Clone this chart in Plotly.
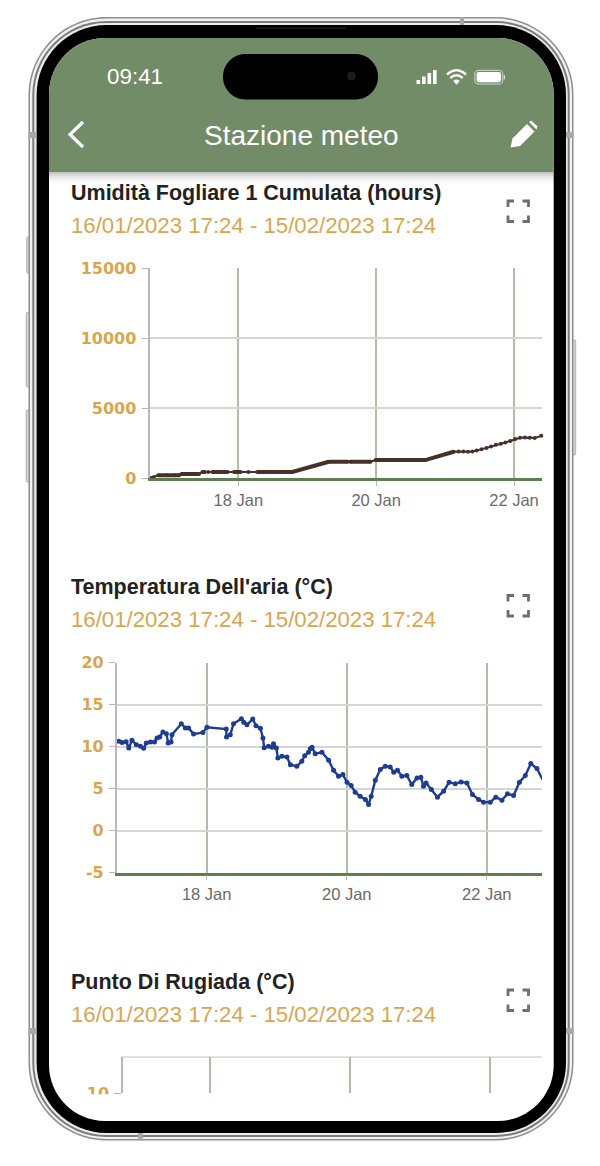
import pandas as pd
import plotly.graph_objects as go

W = 600
H = 1166

GREEN = '#738c68'
GOLD = '#d9a650'
AXIS_GREEN = '#5f7f50'
VGRID = '#adc0a5'
HGRID = '#d6d6d6'
BROWN = '#46302a'
BLUE = '#1f3d8f'

TITLES = ['Umidità Fogliare 1 Cumulata (hours)', "Temperatura Dell'aria (°C)", 'Punto Di Rugiada (°C)']
PERIOD = '16/01/2023 17:24 - 15/02/2023 17:24'

tick_days = ['2023-01-18', '2023-01-20', '2023-01-22']
tick_names = ['18 Jan', '20 Jan', '22 Jan']

leaf_ticks = [0, 5000, 10000, 15000]
leaf_labels = ['0', '5000', '10000', '15000']
temp_ticks = [-5, 0, 5, 10, 15, 20]
temp_labels = ['-5', '0', '5', '10', '15', '20']

# ore dal 18 gennaio 00:00
leaf_hours = [-30.7, -29.5, -27.9, -25, -22, -20.6, -19.8, -17, -13.7, -12.5, -11.9, -10.5,
              -9, -6, -3.8, -1.5, 0.8, 3.5, 6.6, 11.2, 11.8, 14.1, 14.7, 18.8, 31.5, 32.1, 38, 39, 46, 47.8,
              65.1, 75, 76.7, 78.4, 80, 81.5,
              83, 84.7, 86.4, 88, 89.7, 91.4, 93, 94.7, 96.4, 98.1, 99.8, 101.5, 103.2, 105.5]
leaf_values = [0, 60, 190, 190, 190, 190, 285, 285, 285, 430, 430, 430,
               430, 430, 430, 430, 430, 430, 430, 430, 430, 430, 430, 430, 1165, 1165, 1165, 1165, 1165, 1280,
               1280, 1875, 1900, 1890, 1885, 1890,
               1960, 2050, 2150, 2260, 2370, 2450, 2540, 2650, 2790, 2880, 2890, 2880, 2860, 3015]

# tratti dove i punti sono cosi fitti da sembrare una riga spessa
dense_hours = [-27.9, -20.6, None, -19.8, -13.7, None, -12.5, -11.4, None, -9, -3.8, None, -1.5, 0.8, None,
               6.6, 11.2, None, 11.8, 14.1, None, 14.7, 18.8, 31.5, None, 32.1, 38, None, 39, 46, None, 47.8, 65.1, 75]
dense_values = [190, 190, None, 285, 285, None, 430, 430, None, 430, 430, None, 430, 430, None,
                430, 430, None, 430, 430, None, 430, 430, 1165, None, 1165, 1165, None, 1165, 1165, None, 1280, 1280, 1875]

temp_hours = [-30.7, -30.1, -29.0, -27.6, -26.7, -25.6, -24.1, -22.7, -21.6, -20.7, -19.3, -17.9, -17.0, -16.1,
              -15.0, -13.8, -13.2, -12.2, -11.9, -8.7, -7.3, -6.2, -4.5, -1.3, 0.1, 6.7, 6.8, 8.1, 9.2, 11.9,
              12.7, 13.8, 15.8, 16.9, 18.4, 19.3, 19.7, 21.2, 22.4, 22.9, 23.9, 24.4, 25.8, 27.5, 28.7, 30.9,
              32.6, 33.6, 34.9, 35.5, 36.1, 37.2, 39.5, 41.8, 43.5, 45.2, 46.7, 48.1, 49.5, 50.9, 52.6, 54.4,
              55.5, 56.4, 57.8, 59.5, 61.2, 62.9, 64.1, 65.4, 66.9, 68.6, 70.3, 72.1, 73.4, 74.3, 75.2, 77.0,
              79.1, 81.2, 83.1, 85.2, 87.2, 89.2, 91.1, 93.2, 94.9, 97.2, 99.1, 101.2, 103.1, 105.2, 107.2,
              109.2, 111.1, 113.2, 115.1]
temp_values = [10.75, 10.63, 10.51, 10.59, 9.84, 10.75, 10.24, 10.04, 9.8, 10.44, 10.55, 10.55, 11.03, 11.15,
               11.74, 11.54, 10.44, 10.55, 11.43, 12.73, 12.22, 12.22, 11.5, 11.7, 12.3, 12.1, 11.15, 11.43, 12.73, 13.33,
               12.9, 12.6, 13.29, 12.5, 12.2, 11.03, 9.88, 10.04, 9.92, 10.36, 9.84, 8.65, 8.85, 8.77, 7.86, 7.66,
               8.26, 8.93, 9.33, 9.76, 9.92, 9.17, 9.33, 8.38, 7.19, 6.48, 6.67, 5.76, 5.37, 4.58, 4.1, 3.71,
               3.11, 4.1, 6.0, 7.27, 7.66, 7.59, 6.95, 7.19, 6.48, 6.56, 5.49, 6.28, 6.36, 5.29, 5.68, 4.89,
               3.98, 4.7, 5.76, 5.57, 5.8, 5.68, 4.3, 3.71, 3.39, 3.39, 3.98, 3.63, 4.38, 4.18, 5.76,
               6.56, 7.98, 7.39, 6.08]

base = pd.Timestamp('2023-01-18')
leaf_x = [base + pd.Timedelta(hours=h) for h in leaf_hours]
dense_x = [None if h is None else base + pd.Timedelta(hours=h) for h in dense_hours]
temp_x = [base + pd.Timedelta(hours=h) for h in temp_hours]


def px(x):
    return x / W


def py(y):
    return 1 - y / H


def to_path(pts):
    out = []
    for p in pts:
        nums = []
        for i in range(1, len(p), 2):
            nums.append('%.5f,%.5f' % (px(p[i]), py(p[i + 1])))
        out.append(p[0] + ' ' + ' '.join(nums))
    return ' '.join(out)


def rrect(x0, y0, x1, y1, r):
    k = r * 0.45
    pts = [
        ('M', x0 + r, y0), ('L', x1 - r, y0),
        ('C', x1 - k, y0, x1, y0 + k, x1, y0 + r), ('L', x1, y1 - r),
        ('C', x1, y1 - k, x1 - k, y1, x1 - r, y1), ('L', x0 + r, y1),
        ('C', x0 + k, y1, x0, y1 - k, x0, y1 - r), ('L', x0, y0 + r),
        ('C', x0, y0 + k, x0 + k, y0, x0 + r, y0),
    ]
    return to_path(pts) + ' Z'


shapes = []


def add_path(path, fill=None, line=None, width=0, layer='below'):
    shapes.append(dict(type='path', xref='paper', yref='paper', path=path, layer=layer,
                       fillcolor=fill if fill else 'rgba(0,0,0,0)',
                       line=dict(color=line if line else 'rgba(0,0,0,0)', width=width)))


def add_rect(x0, y0, x1, y1, fill, layer='below'):
    shapes.append(dict(type='rect', xref='paper', yref='paper', x0=px(x0), x1=px(x1), y0=py(y0), y1=py(y1),
                       fillcolor=fill, line=dict(width=0), layer=layer))


# telefono
for x0, y0, x1, y1 in [(26.7, 237, 30, 273), (26.2, 312.5, 30, 387), (26.2, 410, 30, 482), (570, 340, 575.7, 455)]:
    add_path(rrect(x0, y0, x1, y1, 1), fill='#d4d4d4', line='#a5a5a5', width=0.8)
add_path(rrect(28.5, 17, 573.5, 1140.5, 78), fill='#8e8e8e')
add_path(rrect(30, 18.5, 572, 1139, 76.5), fill='#f2f2f2')
add_path(rrect(32.3, 21, 569.7, 1137, 74), fill='#7c7c7c')
add_path(rrect(34.3, 23, 567.7, 1135, 72), fill='#ececec')
add_path(rrect(36.6, 25, 566, 1133, 70), fill='#000000')
add_path(rrect(49, 38, 553.7, 1121, 56), fill='#ffffff')
for x0, y0, x1, y1 in [(28.5, 132, 36.6, 138), (566, 132, 573.5, 138), (28.5, 1028, 36.6, 1034), (566, 1028, 573.5, 1034),
                       (460, 17, 464, 25), (138, 1133, 143, 1140.5)]:
    add_rect(x0, y0, x1, y1, '#a8a8a8')
add_rect(256, 27.8, 346, 28.6, '#3a3a3a')

# barra verde in alto
k = 56 * 0.45
add_path(to_path([('M', 49, 172), ('L', 49, 94), ('C', 49, 38 + k, 49 + k, 38, 105, 38), ('L', 497.7, 38),
                  ('C', 553.7 - k, 38, 553.7, 38 + k, 553.7, 94), ('L', 553.7, 172)]) + ' Z', fill=GREEN)
for i, alpha in enumerate([0.22, 0.15, 0.10, 0.06, 0.03, 0.015]):
    add_rect(49, 172 + i * 2, 553.7, 174 + i * 2, 'rgba(0,0,0,%.3f)' % alpha)
add_path(rrect(223, 54, 378, 99.5, 22.5), fill='#000000')
shapes.append(dict(type='circle', xref='paper', yref='paper', x0=px(347), x1=px(356), y0=py(80.5), y1=py(71.5),
                   fillcolor='#1c1c20', line=dict(width=0), layer='below'))

# icone status bar
for x0, y0 in [(416.5, 80), (422, 76.5), (427.5, 73), (433, 70)]:
    add_rect(x0, y0, x0 + 3.6, 84, '#ffffff')
add_path(to_path([('M', 447, 74.5), ('Q', 456.5, 66, 466, 74.5)]), line='#ffffff', width=2.4)
add_path(to_path([('M', 450.3, 78), ('Q', 456.5, 72.5, 462.7, 78)]), line='#ffffff', width=2.4)
add_path(to_path([('M', 453.3, 81), ('Q', 456.5, 78.2, 459.7, 81), ('L', 456.5, 84.8)]) + ' Z', fill='#ffffff')
add_path(rrect(474.8, 70.3, 502.8, 84, 3.5), line='#d5ddd0', width=1)
add_path(rrect(476.6, 72, 501, 82.3, 2), fill='#ffffff')
add_rect(503.8, 75, 505, 79.5, '#d5ddd0')

# freccia indietro e matita
add_path(to_path([('M', 83, 122), ('L', 70, 134.5), ('L', 83, 147)]), line='#ffffff', width=3.2)
add_path(to_path([('M', 510.5, 147.5), ('L', 512.5, 138.5), ('L', 527, 124), ('L', 534.5, 131.5), ('L', 520, 146)]) + ' Z',
         fill='#ffffff')
add_path(to_path([('M', 529, 122), ('L', 531.5, 120.7), ('L', 537.5, 126.5), ('L', 536.5, 129.5)]) + ' Z', fill='#ffffff')


def expand_icon(x0, y0, x1, y1):
    a = 6
    for cx, cy, sx, sy in [(x0, y0, 1, 1), (x1, y0, -1, 1), (x0, y1, 1, -1), (x1, y1, -1, -1)]:
        add_path(to_path([('M', cx + sx * a, cy), ('L', cx, cy), ('L', cx, cy + sy * a)]), line='#6e6e6e', width=2.8)


expand_icon(508, 201, 528.5, 221.5)
expand_icon(508, 595.5, 528.5, 616)
expand_icon(508, 990, 528.5, 1010.5)

# copre il "10" del terzo grafico sotto la linea
add_rect(85, 1094.2, 118, 1112, '#ffffff', layer='above')

# riga alta del terzo grafico
shapes.append(dict(type='line', xref='paper', yref='paper', x0=px(122), x1=px(542), y0=py(1057), y1=py(1057),
                   line=dict(color=HGRID, width=1.5), layer='below'))

fig = go.Figure()
fig.add_trace(go.Scatter(x=leaf_x, y=leaf_values, mode='lines+markers', xaxis='x', yaxis='y',
                         line=dict(color=BROWN, width=2), marker=dict(color=BROWN, size=4), cliponaxis=False))
fig.add_trace(go.Scatter(x=dense_x, y=dense_values, mode='lines', xaxis='x', yaxis='y',
                         line=dict(color=BROWN, width=4), connectgaps=False, cliponaxis=False))
fig.add_trace(go.Scatter(x=temp_x, y=temp_values, mode='lines+markers', xaxis='x2', yaxis='y2',
                         line=dict(color=BLUE, width=2.4), marker=dict(color=BLUE, size=5), cliponaxis=False))
fig.add_trace(go.Scatter(x=[], y=[], xaxis='x3', yaxis='y3'))


def x_axis(left, right, start, end, anchor, bottom_line=True):
    return dict(domain=[px(left), px(right)], anchor=anchor, type='date', range=[start, end],
                tickvals=tick_days, ticktext=tick_names if bottom_line else ['', '', ''],
                showgrid=True, gridcolor=VGRID, gridwidth=1.5, zeroline=False,
                showline=bottom_line, linecolor=AXIS_GREEN, linewidth=2.5,
                ticks='outside' if bottom_line else '', ticklen=5, tickcolor='#b5b5b5', tickwidth=1.2,
                tickfont=dict(family='Liberation Sans', size=16.5, color='#6a6a6a'))


def y_axis(top, bottom, rng, vals, labels, anchor):
    return dict(domain=[py(bottom), py(top)], anchor=anchor, range=rng, tickvals=vals, ticktext=labels,
                showgrid=True, gridcolor=HGRID, gridwidth=1.5, zeroline=False,
                showline=True, linecolor='#b8b8b8', linewidth=1.5,
                ticks='outside', ticklen=6.5, tickcolor='#b5b5b5', tickwidth=1.2, ticklabelstandoff=2,
                tickfont=dict(family='DejaVu Sans', size=16, color=GOLD, weight=700))


annotations = []


def add_text(x, y, text, size, color, weight=400, anchor='left'):
    annotations.append(dict(xref='paper', yref='paper', x=px(x), y=py(y), text=text, showarrow=False,
                            xanchor=anchor, yanchor='middle',
                            font=dict(family='Liberation Sans', size=size, color=color, weight=weight)))


add_text(135, 77, '09:41', 22.4, '#ffffff', anchor='center')
add_text(301, 135.5, 'Stazione meteo', 28, '#ffffff', anchor='center')
for i, t in enumerate(TITLES):
    y = 193 + i * 394.3
    add_text(68.5, y, t, 21.5, '#222222', 700)
    add_text(68.5, y + 32.5, PERIOD, 22.2, GOLD)

fig.update_layout(
    width=W, height=H, margin=dict(l=0, r=0, t=0, b=0, autoexpand=False), showlegend=False,
    paper_bgcolor='#ffffff', plot_bgcolor='rgba(0,0,0,0)',
    xaxis=x_axis(149.8, 542, '2023-01-16 17:10', '2023-01-22 09:45', 'y'),
    yaxis=y_axis(268.3, 478, [0, 15000], leaf_ticks, leaf_labels, 'x'),
    xaxis2=x_axis(117.2, 542, '2023-01-16 17:20', '2023-01-22 18:56', 'y2'),
    yaxis2=y_axis(662.7, 872.6, [-5, 20], temp_ticks, temp_labels, 'x2'),
    xaxis3=x_axis(122.5, 542, '2023-01-16 17:50', '2023-01-22 18:00', 'y3', bottom_line=False),
    yaxis3=y_axis(1057, 1093, [10, 15], [10], ['10'], 'x3'),
    shapes=shapes, annotations=annotations,
)

fig.write_html('out.html', config=dict(displayModeBar=False),
               post_script="document.body.style.margin='0';document.documentElement.style.overflow='hidden';")
